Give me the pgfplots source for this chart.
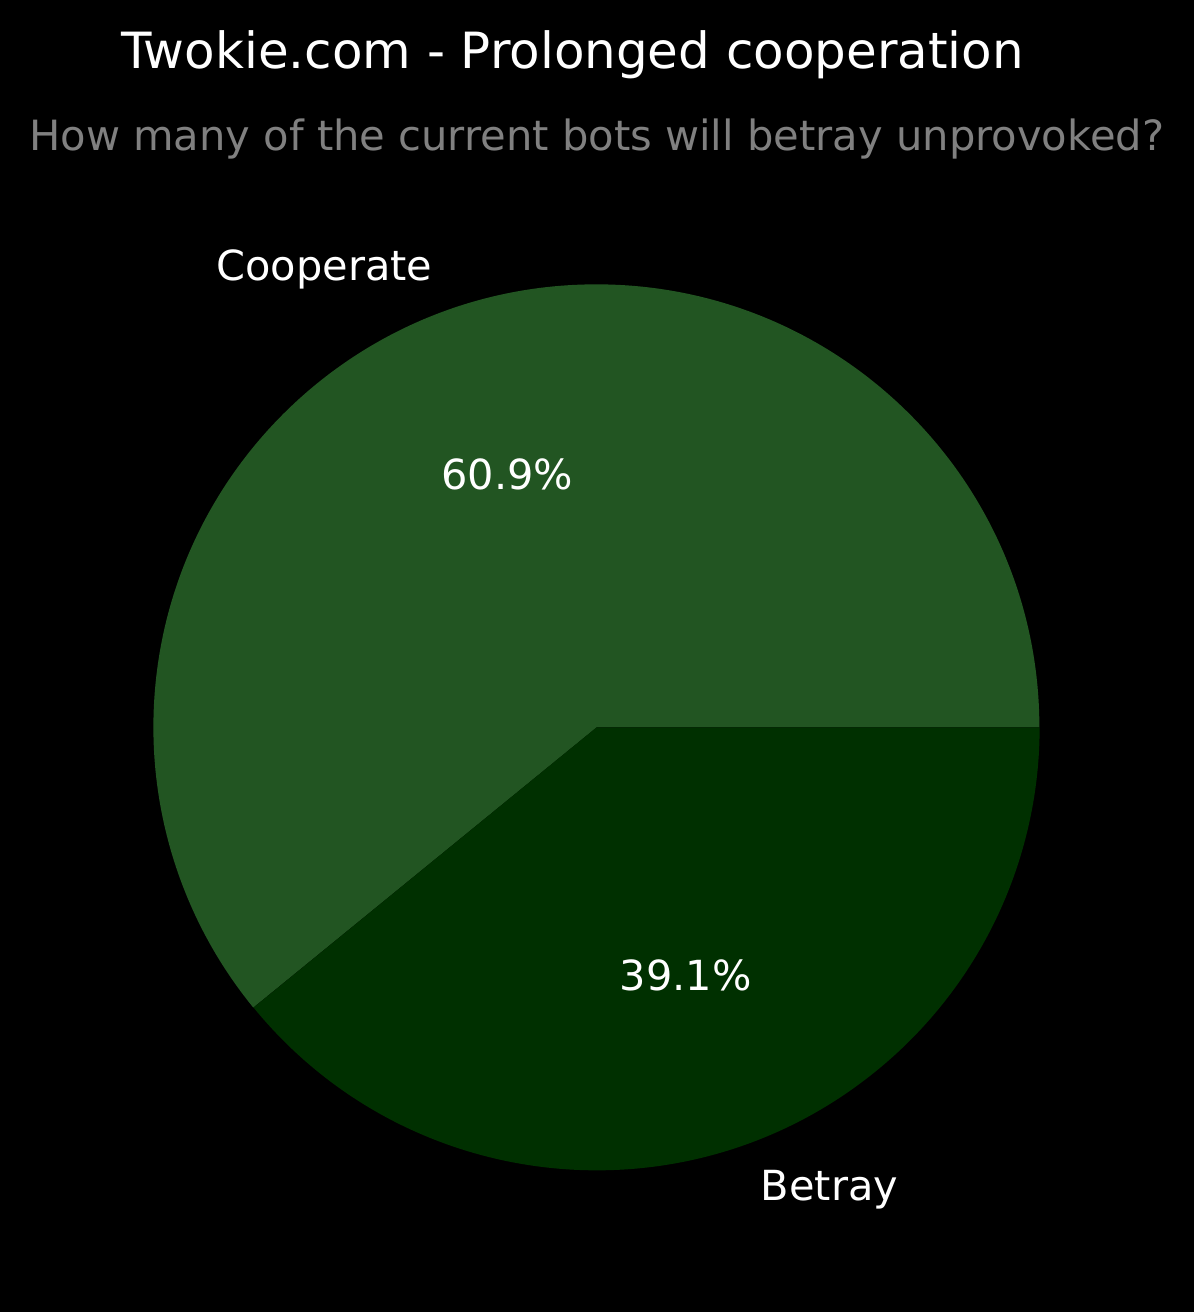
\documentclass[border=0pt]{standalone}
\usepackage{pgfplots}
\pgfplotsset{compat=1.18}
\usepackage{pgfplotstable}
\usepackage{fontspec}
\setmainfont{DejaVu Sans}
\definecolor{coop}{HTML}{225522}
\definecolor{betr}{HTML}{003000}
\definecolor{subgray}{HTML}{808080}
\pgfplotstableread{
label value
Cooperate 60.9
Betray 39.1
}\piedata
\begin{document}
\begin{tikzpicture}
\fill[black] (0,0) rectangle (11.94cm,13.12cm);
\pgfplotstablegetelem{0}{value}\of\piedata \let\va\pgfplotsretval
\pgfplotstablegetelem{1}{value}\of\piedata \let\vb\pgfplotsretval
\pgfmathsetmacro{\aA}{\va/(\va+\vb)*360}
\pgfmathsetmacro{\mA}{\aA/2}
\pgfmathsetmacro{\mB}{(\aA+360)/2}
\begin{axis}[
  anchor=origin, at={(0,0)},
  x=0.01cm, y=0.01cm,
  xmin=0, xmax=1194, ymin=0, ymax=1312,
  hide axis, clip=false,
]
% wedges, centre (597,585), radius 443 px
\fill[coop] (axis cs:597,585) -- (axis cs:1040,585) arc[start angle=0, end angle=\aA, radius=4.43cm] -- cycle;
\fill[betr] (axis cs:597,585) -- ++(\aA:4.43cm) arc[start angle=\aA, end angle=360, radius=4.43cm] -- cycle;
% labels
\pgfmathsetmacro{\lxA}{597+487.3*cos(\mA)}
\pgfmathsetmacro{\lxB}{597+487.3*cos(\mB)}
\pgfmathsetmacro{\pxA}{597+265.8*cos(\mA)}
\pgfmathsetmacro{\pxB}{597+265.8*cos(\mB)}
\node[anchor=base east, text=white, font=\fontsize{11.8}{14}\selectfont, inner sep=0pt] at (axis cs:\lxA,1032) {Cooperate};
\node[anchor=base west, text=white, font=\fontsize{11.8}{14}\selectfont, inner sep=0pt] at (axis cs:\lxB,112) {Betray};
\node[anchor=base, text=white, font=\fontsize{11.8}{14}\selectfont, inner sep=0pt] at (axis cs:\pxA,823) {\pgfmathprintnumber[fixed,precision=1,fixed zerofill,assume math mode=true]{\va}\%};
\node[anchor=base, text=white, font=\fontsize{11.8}{14}\selectfont, inner sep=0pt] at (axis cs:\pxB,321.5) {\pgfmathprintnumber[fixed,precision=1,fixed zerofill,assume math mode=true]{\vb}\%};
% titles
\node[anchor=base, text=white, font=\fontsize{14.2}{17}\selectfont, inner sep=0pt] at (axis cs:573,1244) {Twokie.com - Prolonged cooperation};
\node[anchor=base, text=subgray, font=\fontsize{11.85}{14}\selectfont, inner sep=0pt] at (axis cs:597,1162) {How many of the current bots will betray unprovoked?};
\end{axis}
\end{tikzpicture}
\end{document}
